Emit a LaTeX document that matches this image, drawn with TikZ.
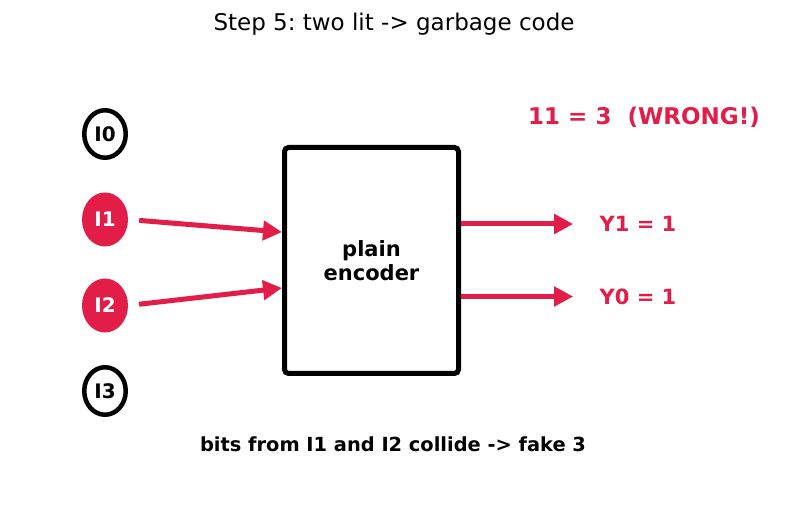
\documentclass[tikz,border=0pt]{standalone}
\usepackage{fontspec}
\setmainfont{DejaVu Sans}
\usetikzlibrary{positioning,arrows.meta,calc,shapes.geometric}
\definecolor{hot}{HTML}{E11D48}
\frenchspacing

\begin{document}
\begin{tikzpicture}[
    x=1pt, y=-1pt,
    bit/.style={ellipse, inner sep=0pt, font=\fontsize{20}{23}\selectfont\bfseries},
    off/.style={bit, draw, line width=4.5pt, minimum width=41.5pt, minimum height=47.5pt},
    lit/.style={bit, fill=hot, text=white, minimum width=46pt, minimum height=54pt},
    encbox/.style={draw, line width=5pt, rounded corners=4pt, minimum width=174pt, minimum height=226pt, align=center, font=\fontsize{21}{24}\selectfont\bfseries},
    wire/.style={-{Triangle[length=19pt,width=19pt]}, line width=5pt, draw=hot},
    outlbl/.style={text=hot, font=\fontsize{21}{24}\selectfont\bfseries}
]
\useasboundingbox (0,0) rectangle (787,510);

\node[font=\fontsize{23}{27}\selectfont] (title) at (394,24) {Step 5: two lit -> garbage code};

\node[off] (i0) at (105,134) {I0};
\node[lit] (i1) at (105,219.5) {I1};
\node[lit] (i2) at (105,305.5) {I2};
\node[off] (i3) at (105,391) {I3};

\node[encbox] (enc) at (371.5,260.5) {plain\\encoder};
\coordinate (in1) at ($(enc.north west)!0.377!(enc.south west)$);
\coordinate (in2) at ($(enc.north west)!0.619!(enc.south west)$);

\node[outlbl] (y1) at (638,224) {Y1 = 1};
\node[outlbl] (y0) at (638,296.5) {Y0 = 1};
\node[outlbl, font=\fontsize{23}{27}\selectfont\bfseries] (wrong) at (644,117) {11 = 3\ \ (WRONG!)};

\node[font=\fontsize{19.4}{23}\selectfont\bfseries] (note) at (393,444) {bits from I1 and I2 collide -> fake 3};

\draw[wire, shorten <=11pt] (i1.east) -- (in1);
\draw[wire, shorten <=11pt] (i2.east) -- (in2);
\draw[wire, shorten >=23pt] (enc.east |- y1) -- (y1.west);
\draw[wire, shorten >=23pt] (enc.east |- y0) -- (y0.west);
\end{tikzpicture}
\end{document}
